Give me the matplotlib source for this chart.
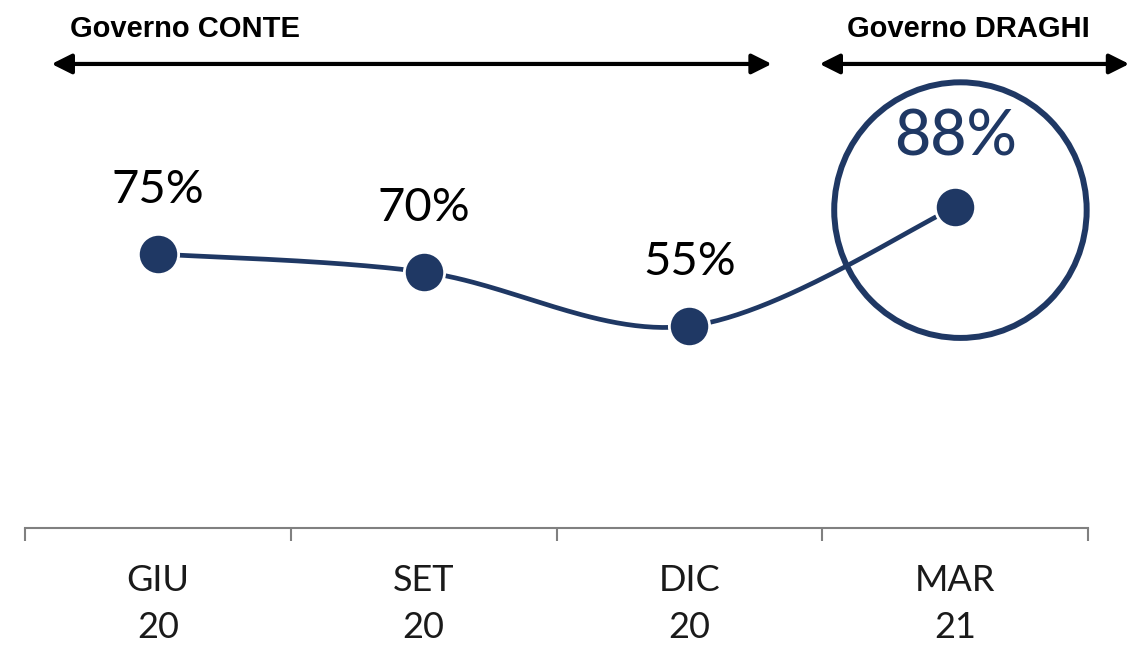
import matplotlib

matplotlib.use("Agg")
import matplotlib.pyplot as plt
import numpy as np
from matplotlib.patches import Ellipse

NAVY = "#1f3864"
GREY = "#808080"

months = ["GIU", "SET", "DIC", "MAR"]
years = ["20", "20", "20", "21"]
approval = [75, 70, 55, 88]
label_text = ["75%", "70%", "55%", "88%"]


def smooth(xs, ys, steps=60):
    # Excel-style smoothed line: cubic Bezier with control points at 1/6 of neighbour spans
    pts = np.column_stack([xs, ys]).astype(float)
    ext = np.vstack([pts[0], pts, pts[-1]])
    out = []
    t = np.linspace(0, 1, steps)[:, None]
    for i in range(len(pts) - 1):
        p0, p3 = ext[i + 1], ext[i + 2]
        c1 = p0 + (ext[i + 2] - ext[i]) / 6
        c2 = p3 - (ext[i + 3] - ext[i + 1]) / 6
        seg = (1 - t) ** 3 * p0 + 3 * (1 - t) ** 2 * t * c1 + 3 * (1 - t) * t ** 2 * c2 + t ** 3 * p3
        out.append(seg)
    seg = np.vstack(out)
    return seg[:, 0], seg[:, 1]


plt.rcParams["font.family"] = ["Lato", "DejaVu Sans"]

fig = plt.figure(figsize=(11.32, 6.45), dpi=100)
ax = fig.add_axes([25 / 1132, 117 / 645, 1063 / 1132, 528 / 645])
ax.set_xlim(-0.5, 3.5)
ax.set_ylim(-1.1, 528 / 3.6 - 1.1)

x = np.arange(len(months))
sx, sy = smooth(x, approval)
ax.plot(sx, sy, color=NAVY, lw=3.4, solid_capstyle="round", zorder=2)
ax.plot(x, approval, "o", color=NAVY, markersize=29, mec="white", mew=2, zorder=3)

for i, (xi, v, t) in enumerate(zip(x, approval, label_text)):
    if i == len(x) - 1:
        ax.annotate(t, (xi, v), xytext=(0, 50), textcoords="offset points",
                    ha="center", va="center", fontsize=45, color=NAVY, fontweight="medium")
    else:
        ax.annotate(t, (xi, v), xytext=(0, 46), textcoords="offset points",
                    ha="center", va="center", fontsize=34, color="black", fontweight="normal")

# highlight ring around the last point
ax.add_patch(Ellipse((x[-1] + 0.02, approval[-1] - 0.8), width=0.95, height=71,
                     fill=False, ec=NAVY, lw=4.3, zorder=1, clip_on=False))

# government period arrows
arrow = dict(arrowstyle="<|-|>", color="black", lw=3, mutation_scale=30, shrinkA=0, shrinkB=0)
ay = 127.8
ax.annotate("", xy=(-0.40, ay), xytext=(2.31, ay), arrowprops=arrow, annotation_clip=False)
ax.annotate("", xy=(2.49, ay), xytext=(3.655, ay), arrowprops=arrow, annotation_clip=False)
ax.text(-0.33, 137.4, "Governo CONTE", fontsize=21, fontweight="bold",
        family=["Liberation Sans", "DejaVu Sans"], ha="left", va="center")
ax.text(3.05, 137.4, "Governo DRAGHI", fontsize=21, fontweight="bold",
        family=["Liberation Sans", "DejaVu Sans"], ha="center", va="center")

for s in ["top", "right", "left"]:
    ax.spines[s].set_visible(False)
ax.spines["bottom"].set_color(GREY)
ax.spines["bottom"].set_linewidth(1.5)
ax.set_yticks([])
ax.set_xticks(x)
ax.set_xticklabels([f"{m}\n{y}" for m, y in zip(months, years)], fontsize=26,
                   fontweight="normal", color="#1a1a1a", linespacing=1.5)
ax.tick_params(axis="x", which="major", length=0, pad=26)
ax.set_xticks(np.arange(-0.5, len(months)), minor=True)
ax.tick_params(axis="x", which="minor", length=9, width=1.5, color=GREY, direction="out")

fig.savefig("out.png", dpi=100)
